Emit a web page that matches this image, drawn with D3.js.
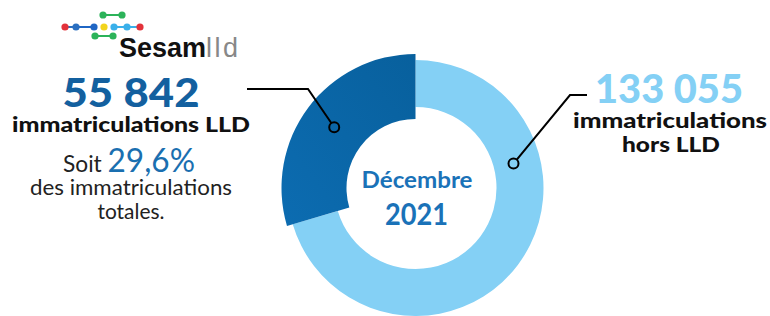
<!DOCTYPE html>
<html>
<head>
<meta charset="utf-8">
<script src="https://cdn.jsdelivr.net/npm/d3@7"></script>
<style>
  body { margin: 0; background: #fff; }
  svg { display: block; font-family: Lato, "Open Sans", sans-serif; }
</style>
</head>
<body>
<script>
// données
var categories = ["immatriculations LLD", "immatriculations hors LLD"];
var values = [55842, 133055];
var period = ["Décembre", "2021"];

var width = 770, height = 316;
var cx = 415.5, cy = 188;
var darkBlue = "#0b65a7", lightBlue = "#84d0f5", textBlue = "#13609f";

var fr = d3.formatLocale({decimal: ",", thousands: " ", grouping: [3], currency: ["", " €"]});
var fmtNum = fr.format(",d");
var fmtPct = fr.format(".1%");
var total = d3.sum(values);

var svg = d3.select("body").append("svg")
  .attr("width", width)
  .attr("height", height);

var defs = svg.append("defs");
var grad = defs.append("linearGradient")
  .attr("id", "darkGrad")
  .attr("x1", "0%").attr("y1", "100%")
  .attr("x2", "100%").attr("y2", "0%");
grad.append("stop").attr("offset", "0%").attr("stop-color", "#0c6cb1");
grad.append("stop").attr("offset", "100%").attr("stop-color", "#08609d");

// donut (sens anti-horaire depuis le haut)
var pie = d3.pie().sort(null)
  .startAngle(0)
  .endAngle(-2 * Math.PI)
  .value(function(d) { return d; });
var piedata = pie(values);

var arcLight = d3.arc().innerRadius(81).outerRadius(128);
var arcDark = d3.arc().innerRadius(69).outerRadius(134);

var g = svg.append("g").attr("transform", "translate(" + cx + "," + cy + ")");
g.append("path")
  .attr("d", arcLight(piedata[1]))
  .attr("fill", lightBlue);
g.append("path")
  .attr("d", arcDark(piedata[0]))
  .attr("fill", "url(#darkGrad)");

// petit utilitaire : texte centré, étiré à la largeur voulue
function label(parent, x, y, w, size, weight, color, txt) {
  var t = parent.append("text")
    .attr("x", x).attr("y", y)
    .attr("text-anchor", "middle")
    .attr("font-size", size)
    .attr("font-weight", weight)
    .attr("fill", color);
  if (txt != null) t.text(txt);
  t.attr("textLength", w).attr("lengthAdjust", "spacingAndGlyphs");
  return t;
}

// texte central
label(svg, 417, 188, 111, 22, 700, "#1a72b8", period[0]);
label(svg, 416.5, 225, 63, 30, 700, "#1a72b8", period[1]);

// traits de rappel
var c0 = arcDark.centroid(piedata[0]);
var p0 = [cx + c0[0], cy + c0[1]];
var a1 = 76 * Math.PI / 180, r1 = 101;
var p1 = [cx + r1 * Math.sin(a1), cy - r1 * Math.cos(a1)];

var leader = d3.line();
svg.append("path")
  .attr("d", leader([[247, 89], [308, 89], p0]))
  .attr("fill", "none").attr("stroke", "#000").attr("stroke-width", 2);
svg.append("path")
  .attr("d", leader([p1, [570, 95], [587, 95]]))
  .attr("fill", "none").attr("stroke", "#000").attr("stroke-width", 2);
[p0, p1].forEach(function(p, i) {
  svg.append("circle")
    .attr("cx", p[0]).attr("cy", p[1]).attr("r", 5)
    .attr("fill", i == 0 ? darkBlue : lightBlue)
    .attr("stroke", "#000").attr("stroke-width", 2);
});

// bloc gauche
label(svg, 131, 107, 137, 40, 900, textBlue, fmtNum(values[0]));
label(svg, 131, 132, 238, 20, 900, "#111", categories[0]);
var soit = label(svg, 129, 172, 132, 23, 400, "#222", null);
soit.append("tspan").text("Soit ");
soit.append("tspan")
  .attr("font-size", 32).attr("font-weight", 400).attr("fill", "#1a6fb0")
  .text(fmtPct(values[0] / total));
label(svg, 131, 195, 202, 21, 400, "#222", "des immatriculations");
label(svg, 131, 219, 67, 21, 400, "#222", "totales.");

// bloc droit
label(svg, 669, 103, 148, 39, 900, lightBlue, fmtNum(values[1]));
label(svg, 670, 128, 194, 21, 900, "#111", categories[1].split(" hors")[0]);
label(svg, 671, 152, 98, 21, 900, "#111", "hors LLD");

// logo Sesamlld
var logo = svg.append("g");
var links = [
  [[65, 27], [76, 27], "#2b6fc0"], [[76, 27], [94, 27], "#1f66c4"],
  [[114, 27], [127, 27], "#3ab0ea"], [[127, 27], [140, 27], "#3ab0ea"],
  [[103, 15], [122, 15], "#2cb35a"], [[95, 36], [113, 36], "#2cb35a"]
];
links.forEach(function(l) {
  logo.append("line")
    .attr("x1", l[0][0]).attr("y1", l[0][1])
    .attr("x2", l[1][0]).attr("y2", l[1][1])
    .attr("stroke", l[2]).attr("stroke-width", 2);
});
var dots = [
  [65, 27, "#e3323b"], [76, 27, "#2b6fc0"], [94, 27, "#1f66c4"],
  [104, 27, "#f2d41c"], [114, 27, "#3ab0ea"], [127, 27, "#3ab0ea"],
  [140, 27, "#e3323b"], [103, 15, "#2cb35a"], [122, 15, "#2cb35a"],
  [95, 36, "#2cb35a"], [113, 36, "#2cb35a"]
];
dots.forEach(function(d) {
  logo.append("circle").attr("cx", d[0]).attr("cy", d[1]).attr("r", 3.6).attr("fill", d[2]);
});
var brand = logo.append("text")
  .attr("x", 119).attr("y", 57)
  .attr("font-family", "Liberation Sans, Arial, sans-serif")
  .attr("font-size", 27);
brand.append("tspan").attr("font-weight", 700).attr("fill", "#111").text("Sesam");
brand.append("tspan").attr("font-weight", 400).attr("fill", "#888")
  .attr("letter-spacing", 2.5).text("lld");
</script>
</body>
</html>
